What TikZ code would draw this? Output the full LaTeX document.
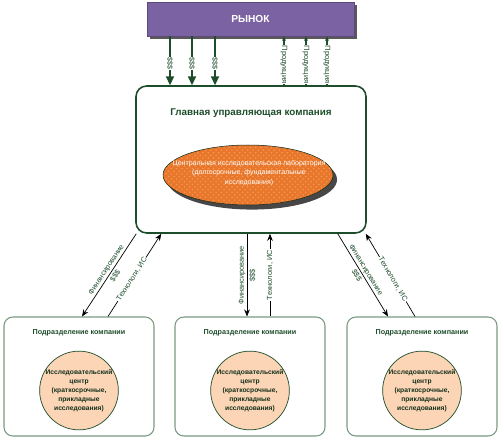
\documentclass[tikz,border=0pt]{standalone}
\usepackage{fontspec}
\setmainfont{Liberation Sans}
\usetikzlibrary{arrows.meta, positioning, shadows, patterns, shapes.geometric}
\definecolor{rdGreen}{HTML}{1E4D2B}
\definecolor{rdPurple}{HTML}{7B62A3}
\definecolor{rdOrange}{HTML}{E8762B}
\definecolor{rdHatch}{HTML}{F39A55}
\definecolor{rdPeach}{HTML}{FBD5B5}
\definecolor{rdDivLine}{HTML}{7A9A82}
\definecolor{rdShadow}{HTML}{474747}
\newcommand{\fs}[2]{\fontsize{#1}{#2}\selectfont}
\tikzset{
  rdfig/.style={
    x=0.02cm, y=-0.02cm,
    every node/.append style={font=\fs{4.2}{5}},
  },
  marketbox/.style={
    drop shadow={shadow xshift=1.7pt, shadow yshift=-1.7pt, fill=rdShadow, opacity=0.9},
    draw=rdPurple!75!black, line width=0.3pt, fill=rdPurple, text=white,
    font=\bfseries\fs{5.8}{7}, minimum width=4.14cm, minimum height=0.68cm,
  },
  mainbox/.style={
    draw=rdGreen, line width=0.9pt, rounded corners=6pt, fill=white,
    minimum width=4.6cm, minimum height=2.94cm,
  },
  labnode/.style={
    ellipse,
    drop shadow={shadow xshift=2.3pt, shadow yshift=-2.6pt, fill=rdShadow, opacity=1},
    preaction={fill=rdOrange}, pattern=crosshatch dots, pattern color=rdHatch,
    draw=rdGreen!60!black, line width=0.3pt,
    minimum width=3.4cm, minimum height=1.2cm, inner sep=0pt,
  },
  labtext/.style={align=center, text=white, inner sep=0pt, font=\fs{4}{5.6}},
  divbox/.style={
    draw=rdDivLine, line width=0.6pt, rounded corners=5pt, fill=white,
    minimum width=3cm, minimum height=2.38cm,
  },
  centernode/.style={
    circle, draw=rdGreen, line width=0.4pt, fill=rdPeach, minimum size=1.5cm,
    inner sep=0pt, align=center, text=rdGreen!60!black, font=\bfseries\fs{3.8}{5.1},
  },
  titletext/.style={text=rdGreen, font=\bfseries\fs{#1}{6}},
  moneyflow/.style={draw=rdGreen, line width=1.1pt, -{Triangle[length=5pt, width=4.5pt]}},
  goodsflow/.style={draw=rdGreen, line width=0.6pt, -{Stealth[length=2.6pt, width=2.2pt]}},
  flowtag/.style={fill=white, inner sep=0.4pt, text=rdGreen},
  finflow/.style={draw=black, line width=0.4pt, -{Stealth[length=4pt, width=3.2pt]}},
  techflow/.style={draw=black, line width=0.4pt, -{Stealth[length=4pt, width=3.2pt]}},
  fintag/.style={sloped, align=center, inner sep=0.5pt, text=rdGreen, font=\fs{4.2}{6.2}},
  techtag/.style={sloped, fill=white, inner sep=0.5pt, text=rdGreen, font=\fs{4.2}{5}},
}
\begin{document}
\begin{tikzpicture}[rdfig]
  \useasboundingbox (0,0) rectangle (500,440);
  % рынок и главная компания
  \node[marketbox] (market) at (250.5,19) {РЫНОК};
  \node[mainbox] (main) at (251,159.5) {};
  \node[titletext=5.6] (mainTitle) at (251,113) {Главная управляющая компания};
  \node[labnode] (lab) at (248,175) {};
  \node[labtext] (labText) at (249,173) {Центральная исследовательская лаборатория\\(долгосрочные, фундаментальные\\исследования)};
  % подразделения
  \foreach \i/\cx in {1/79, 2/250, 3/422} {
    \node[divbox] (div\i) at (\cx,376.5) {};
    \node[titletext=4.1] (divTitle\i) at (\cx,333) {Подразделение компании};
    \node[centernode] (center\i) at (\cx,390.5) {Исследовательский\\центр\\(краткосрочные,\\прикладные\\исследования)};
  }
  % потоки с рынком
  \foreach \dx in {-80.5,-58.5,-35.5}
    \draw[moneyflow] ([xshift=\dx*0.02cm]market.south) -- ([xshift=\dx*0.02cm]market.south |- main.north)
      node[flowtag, pos=0.55, rotate=-90, font=\fs{4}{5}] {\$\$\$};
  \foreach \dx in {33.5,55.5,76.5}
    \draw[goodsflow] ([xshift=\dx*0.02cm]market.south |- main.north) -- ([xshift=\dx*0.02cm]market.south)
      node[flowtag, pos=0.42, rotate=-90, font=\fs{4.3}{5}] {Продукция};
  % потоки с подразделениями
  \draw[finflow] ([xshift=0.02cm]main.south west) -- ([xshift=0.06cm]div1.north)
    node[fintag, pos=0.47] {Финансирование\\\$\$\$};
  \draw[techflow] ([xshift=0.58cm]div1.north) -- ([xshift=0.52cm]main.south west)
    node[techtag, pos=0.45] {Технологи, ИС};
  \draw[finflow] ([xshift=-0.08cm]main.south) -- ([xshift=-0.06cm]div2.north)
    node[fintag, midway, rotate=90, sloped=false] {Финансирование\\\$\$\$};
  \draw[techflow] ([xshift=0.4cm]div2.north) -- ([xshift=0.4cm]div2.north |- main.south)
    node[techtag, midway, rotate=90, sloped=false] {Технологи, ИС};
  \draw[finflow] ([xshift=-0.58cm]main.south east) -- ([xshift=-0.68cm]div3.north)
    node[fintag, pos=0.47] {Финансирование\\\$\$\$};
  \draw[techflow] ([xshift=-0.14cm]div3.north) -- ([xshift=-0.02cm]main.south east)
    node[techtag, pos=0.45] {Технологи, ИС};
\end{tikzpicture}
\end{document}
